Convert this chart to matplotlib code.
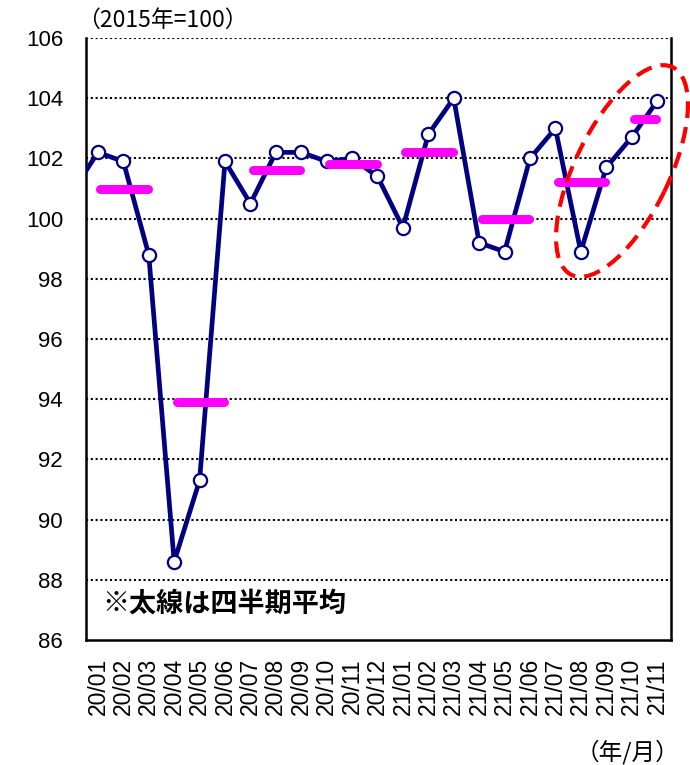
import matplotlib
matplotlib.use('Agg')
import matplotlib.pyplot as plt
from matplotlib.patches import Ellipse

plt.rcParams['font.family'] = ['Liberation Sans', 'Noto Sans CJK JP', 'DejaVu Sans']

# 月次指数 (2015年=100)
months = ['20/01', '20/02', '20/03', '20/04', '20/05', '20/06',
          '20/07', '20/08', '20/09', '20/10', '20/11', '20/12',
          '21/01', '21/02', '21/03', '21/04', '21/05', '21/06',
          '21/07', '21/08', '21/09', '21/10', '21/11']
values = [102.2, 101.9, 98.8, 88.6, 91.3, 101.9,
          100.5, 102.2, 102.2, 101.9, 102.0, 101.4,
          99.7, 102.8, 104.0, 99.2, 98.9, 102.0,
          103.0, 98.9, 101.7, 102.7, 103.9]
prev_value = 100.9  # 19/12

# 四半期平均
q_avg = [101.0, 93.9, 101.6, 101.8, 102.2, 100.0, 101.2, 103.3]
q_months = [3, 3, 3, 3, 3, 3, 3, 2]

fig = plt.figure(figsize=(6.9, 7.65), dpi=100)
ax = fig.add_axes([0.1246, 0.1634, 0.8479, 0.7869])

x = list(range(len(months)))
ax.plot([-1] + x, [prev_value] + values, color='#000080', lw=3.4, zorder=3,
        marker='o', markersize=9.5, markerfacecolor='white',
        markeredgecolor='#000080', markeredgewidth=1.6)

for q, (avg, n) in enumerate(zip(q_avg, q_months)):
    x0 = q * 3 + 0.1
    x1 = q * 3 + n - 1.03
    ax.plot([x0, x1], [avg, avg], color='#ff00ff', lw=6.5,
            solid_capstyle='round', zorder=4)

ax.set_xlim(-0.47, 22.55)
ax.set_ylim(86, 106)
ax.set_yticks(range(86, 107, 2))
ax.set_xticks(x)
ax.set_xticklabels(months, rotation=90, fontsize=16.5)
ax.tick_params(axis='y', length=0, pad=16.5, labelsize=16)
ax.tick_params(axis='x', length=0, pad=13)

for yv in range(88, 107, 2):
    ax.axhline(yv, color='black', lw=1.5, ls=(0, (1, 1.3)), zorder=1)

ax.spines['top'].set_visible(False)
for s in ['left', 'right', 'bottom']:
    ax.spines[s].set_linewidth(1.8)

# 強調の楕円
ell = Ellipse((6.22, 5.94), 2.31, 0.94, angle=64, fill=False,
              edgecolor='#ff0000', lw=3.0, ls=(0, (4, 2.2)),
              transform=fig.dpi_scale_trans, clip_on=False, zorder=5)
fig.add_artist(ell)

ax.text(0.027, 0.06, '※太線は四半期平均', transform=ax.transAxes,
        fontsize=19.5, fontweight='bold', family=['Noto Sans CJK JP'],
        va='center', ha='left')

fig.text(0.112, 0.974, '（2015年=100）', fontsize=16.5,
         family=['Noto Sans CJK JP'], va='center', ha='left')
fig.text(0.985, 0.017, '（年/月）', fontsize=17,
         family=['Noto Sans CJK JP'], va='center', ha='right')

fig.savefig('out.png', dpi=100)
